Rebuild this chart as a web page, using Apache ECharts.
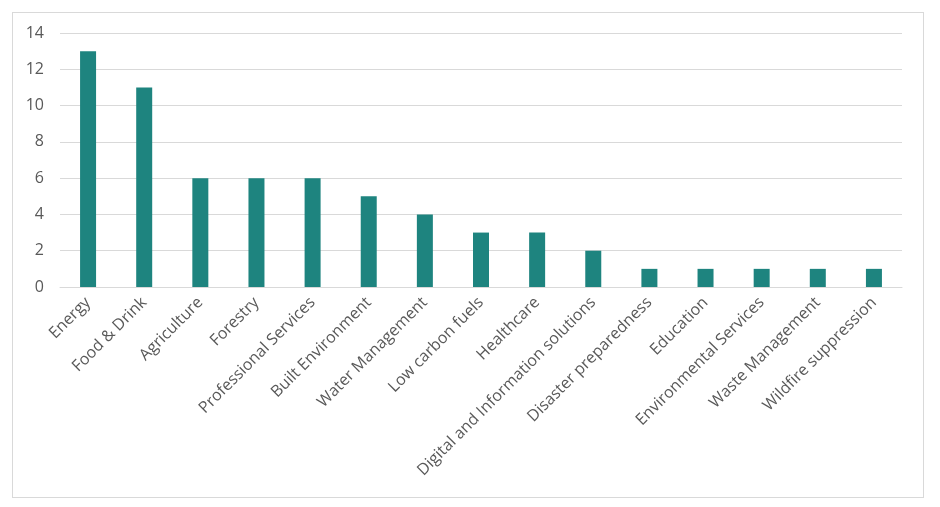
<!DOCTYPE html>
<html>
<head>
<meta charset="utf-8">
<script src="https://cdn.jsdelivr.net/npm/echarts@6/dist/echarts.min.js"></script>
<style>
  html, body { margin: 0; padding: 0; background: #fff; }
  #frame { position: absolute; left: 12px; top: 12px; width: 910px; height: 484px; border: 1px solid #d9d9d9; }
  #chart { position: absolute; left: 0; top: 0; width: 940px; height: 507px; }
</style>
</head>
<body>
<div id="frame"></div>
<div id="chart"></div>
<script>
var sectors = ['Energy', 'Food & Drink', 'Agriculture', 'Forestry', 'Professional Services',
  'Built Environment', 'Water Management', 'Low carbon fuels', 'Healthcare',
  'Digital and Information solutions', 'Disaster preparedness', 'Education',
  'Environmental Services', 'Waste Management', 'Wildfire suppression'];
var counts = [13, 11, 6, 6, 6, 5, 4, 3, 3, 2, 1, 1, 1, 1, 1];

var chart = echarts.init(document.getElementById('chart'));
var option = {
  animation: false,
  grid: { left: 60, right: 38, top: 33, bottom: 220 },
  xAxis: {
    type: 'category',
    data: sectors,
    axisTick: { show: false },
    axisLine: { lineStyle: { color: '#d9d9d9', width: 1 } },
    axisLabel: {
      interval: 0,
      rotate: 45,
      margin: 13,
      color: '#595959',
      fontSize: 16,
      fontFamily: '"Open Sans", sans-serif'
    }
  },
  yAxis: {
    type: 'value',
    min: 0,
    max: 14,
    interval: 2,
    axisLine: { show: false },
    axisTick: { show: false },
    splitLine: { lineStyle: { color: '#d9d9d9', width: 1 } },
    axisLabel: {
      margin: 16,
      color: '#595959',
      fontSize: 16,
      fontFamily: '"Open Sans", sans-serif'
    }
  },
  series: [{
    type: 'bar',
    data: counts,
    barWidth: 16,
    itemStyle: { color: '#1e847f' }
  }]
};
chart.setOption(option);
</script>
</body>
</html>
